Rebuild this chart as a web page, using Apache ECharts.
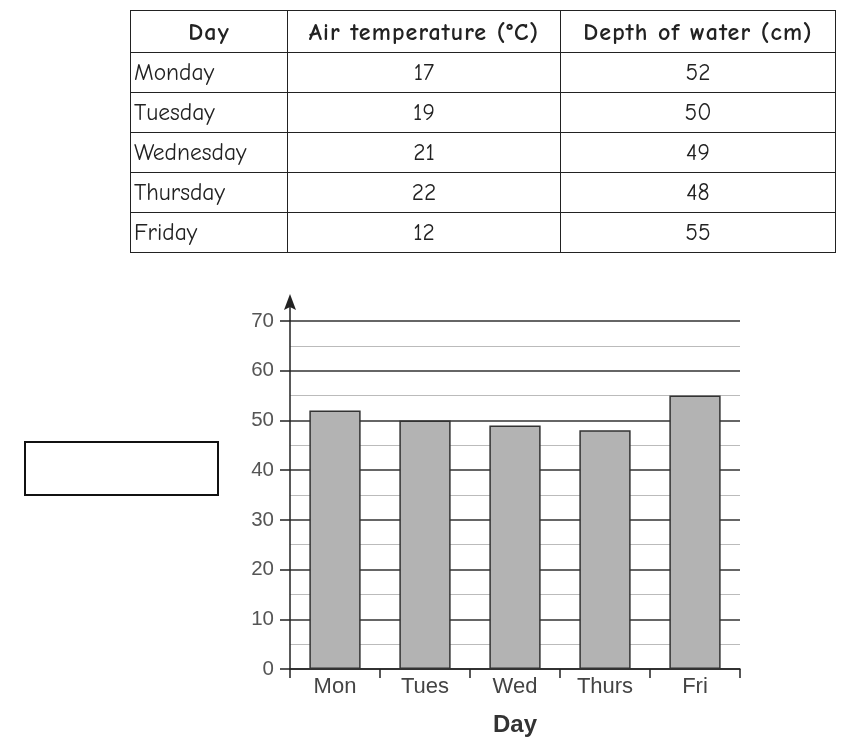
<!DOCTYPE html>
<html>
<head>
<meta charset="utf-8">
<script src="https://cdn.jsdelivr.net/npm/echarts@6.0.0/dist/echarts.min.js"></script>
<style>
  html, body { margin: 0; padding: 0; background: #fff; }
  #wrap { position: relative; width: 846px; height: 752px; }
  #chart { position: absolute; left: 0; top: 0; width: 846px; height: 752px; }
  #data-table {
    position: absolute; left: 130px; top: 10px; width: 705px; height: 240px;
    border-collapse: collapse; table-layout: fixed;
    font-family: "Comic Sans MS", "Comic Neue", "DejaVu Sans", sans-serif;
    font-size: 23.5px; color: #222;
  }
  #data-table th, #data-table td { border: 1.5px solid #222; padding: 0 3px; white-space: nowrap; }
  #data-table th { height: 41px; font-weight: bold; font-size: 24px; letter-spacing: 1.1px; text-align: center; }
  #data-table td { height: 39px; text-align: center; }
  #data-table td:first-child { text-align: left; }
</style>
</head>
<body>
<div id="wrap">
  <div id="chart"></div>
  <table id="data-table"></table>
</div>
<script>
// ---- data ----
const headers = ['Day', 'Air temperature (°C)', 'Depth of water (cm)'];
const days = ['Monday', 'Tuesday', 'Wednesday', 'Thursday', 'Friday'];
const dayShort = ['Mon', 'Tues', 'Wed', 'Thurs', 'Fri'];
const airTemp = [17, 19, 21, 22, 12];
const waterDepth = [52, 50, 49, 48, 55];

// ---- table ----
const table = document.getElementById('data-table');
table.innerHTML =
  '<colgroup><col style="width:157px"><col style="width:273px"><col style="width:275px"></colgroup>' +
  '<tr>' + headers.map(h => `<th>${h}</th>`).join('') + '</tr>' +
  days.map((d, i) => `<tr><td>${d}</td><td>${airTemp[i]}</td><td>${waterDepth[i]}</td></tr>`).join('');

// ---- chart ----
const GRID_LEFT = 290;
const FONT = 'Liberation Sans, Arial, sans-serif';
const chart = echarts.init(document.getElementById('chart'), null, { renderer: 'canvas' });

chart.setOption({
  animation: false,
  grid: { left: GRID_LEFT, right: 106, top: 321, bottom: 83, containLabel: false },
  xAxis: {
    type: 'category',
    data: dayShort,
    name: 'Day',
    nameLocation: 'middle',
    nameGap: 44,
    nameTextStyle: { fontFamily: FONT, fontSize: 24, fontWeight: 'bold', color: '#333' },
    axisLine: { lineStyle: { color: '#222', width: 1.5 } },
    axisTick: { show: true, length: 9, lineStyle: { color: '#222', width: 1.5 } },
    axisLabel: { fontFamily: FONT, fontSize: 22, color: '#444', margin: 7 }
  },
  yAxis: {
    type: 'value',
    min: 0,
    max: 70,
    interval: 10,
    axisLine: { show: true, lineStyle: { color: '#222', width: 1.5 } },
    axisTick: { show: true, length: 10, lineStyle: { color: '#222', width: 1.5 } },
    axisLabel: { fontFamily: FONT, fontSize: 20.5, color: '#555', margin: 16 },
    splitLine: { show: true, lineStyle: { color: '#333', width: 1.5 } },
    minorTick: { show: false, splitNumber: 2 },
    minorSplitLine: { show: true, lineStyle: { color: '#bbb', width: 1.2 } }
  },
  series: [{
    type: 'bar',
    data: waterDepth,
    barWidth: '57%',
    itemStyle: { color: '#b3b3b3', borderColor: '#333', borderWidth: 1.5 }
  }]
});

// arrow on top of the y axis + empty label box
const topPx = chart.convertToPixel({ yAxisIndex: 0 }, 70);
chart.setOption({
  graphic: [
    {
      type: 'line',
      shape: { x1: GRID_LEFT, y1: topPx, x2: GRID_LEFT, y2: topPx - 16 },
      style: { stroke: '#222', lineWidth: 1.5 }
    },
    {
      type: 'polygon',
      shape: { points: [[GRID_LEFT, topPx - 27], [GRID_LEFT - 6, topPx - 11], [GRID_LEFT, topPx - 14], [GRID_LEFT + 6, topPx - 11]] },
      style: { fill: '#222' }
    },
    {
      type: 'rect',
      shape: { x: 25, y: 442, width: 193, height: 53 },
      style: { fill: '#fff', stroke: '#111', lineWidth: 2 }
    }
  ]
});
</script>
</body>
</html>
